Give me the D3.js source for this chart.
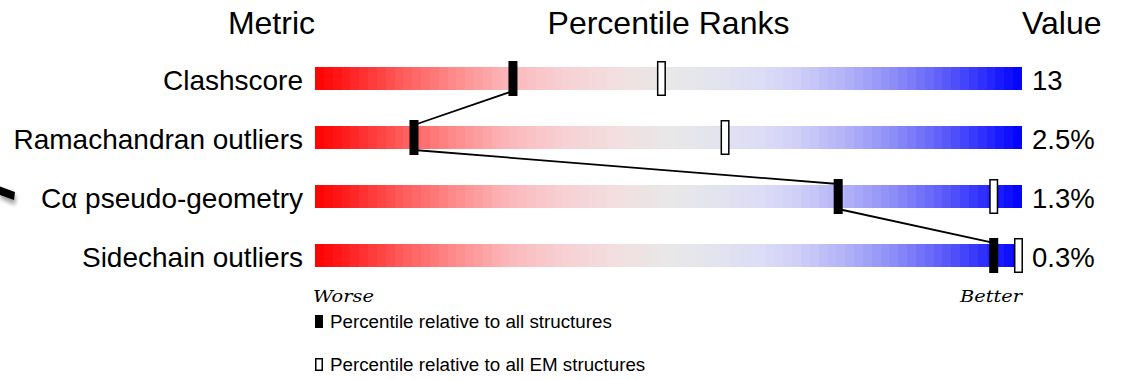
<!DOCTYPE html>
<html>
<head>
<meta charset="utf-8">
<script src="https://cdn.jsdelivr.net/npm/d3@7"></script>
<style>
  html, body { margin: 0; padding: 0; background: #fff; }
  svg { display: block; }
  text { font-family: "Liberation Sans", Arial, sans-serif; fill: #000; }
</style>
</head>
<body>
<div id="chart"></div>
<script>
// ---- data ----
const metrics = ["Clashscore", "Ramachandran outliers", "C\u03b1 pseudo-geometry", "Sidechain outliers"];
const percentileAll = [28, 14, 74, 96];
const percentileEM = [49, 58, 96, 99.5];
const valueLabels = ["13", "2.5%", "1.3%", "0.3%"];
const headers = ["Metric", "Percentile Ranks", "Value"];
const axisEnds = ["Worse", "Better"];
const legendLabels = ["Percentile relative to all structures", "Percentile relative to all EM structures"];

// gradient colour stops (fraction along the slider -> colour)
const gradStops = [0, 0.05, 0.12, 0.20, 0.27, 0.35, 0.43, 0.50, 0.57, 0.63, 0.68, 0.75, 0.82, 0.89, 0.95, 1];
const gradColors = ["#ff0000", "#ff2222", "#ff5959", "#ff8c8c", "#fbb6b9", "#f7d0d3", "#f2dfe0", "#e8e8e8",
                    "#e3e3ef", "#dcdcf6", "#d0d0f8", "#b2b2f8", "#8c8cf8", "#5c5cfa", "#2a2aff", "#0000ff"];

const W = 1126, H = 380;
const svg = d3.select("#chart").append("svg").attr("width", W).attr("height", H);

const x = d3.scaleLinear().domain([0, 100]).range([315, 1022]);
const y = d3.scaleBand().domain(metrics).range([67, 267]).paddingInner(0.61).paddingOuter(0);
const bh = y.bandwidth();
const color = d3.scaleLinear().domain(gradStops).range(gradColors).interpolate(d3.interpolateRgb);

// decorative artifact at left edge (shadowed stroke)
const defs = svg.append("defs");
defs.append("filter").attr("id", "blur").attr("x", "-50%").attr("y", "-50%").attr("width", "200%").attr("height", "200%")
  .append("feGaussianBlur").attr("stdDeviation", 2);
svg.append("polygon").attr("points", "0,190 16,196 15,205 0,198").attr("fill", "#777").attr("filter", "url(#blur)").attr("opacity", 0.7);
svg.append("polygon").attr("points", "0,186.5 15,192 14,200 0,195").attr("fill", "#000");

// headers
svg.append("text").attr("x", x(0)).attr("y", 34).attr("text-anchor", "end").attr("font-size", 32).text(headers[0]);
svg.append("text").attr("x", (x(0) + x(100)) / 2).attr("y", 34).attr("text-anchor", "middle").attr("font-size", 32).text(headers[1]);
svg.append("text").attr("x", x(100)).attr("y", 34).attr("text-anchor", "start").attr("font-size", 32).text(headers[2]);

// gradient bars (banded)
const nBands = 80;
const bands = d3.range(nBands).map(i => i / nBands);
const rows = svg.selectAll("g.row").data(metrics).join("g").attr("class", "row")
  .attr("transform", d => `translate(0,${y(d)})`);
rows.selectAll("rect.band").data(bands).join("rect").attr("class", "band")
  .attr("x", f => x(f * 100))
  .attr("y", 0)
  .attr("width", (x(100) - x(0)) / nBands + 0.6)
  .attr("height", bh)
  .attr("fill", f => color(f + 0.5 / nBands))
  .attr("shape-rendering", "crispEdges");
rows.append("rect").attr("x", x(100)).attr("y", 0).attr("width", 2).attr("height", bh).attr("fill", "#fff");

// metric labels
rows.append("text").attr("x", x(0) - 12).attr("y", bh / 2 + 11).attr("text-anchor", "end").attr("font-size", 28).text(d => d);
// value labels
rows.append("text").attr("x", x(100) + 10).attr("y", bh / 2 + 11).attr("text-anchor", "start").attr("font-size", 27.5)
  .text((d, i) => valueLabels[i]);

// connecting lines
const segs = d3.range(metrics.length - 1).map(i => ({
  x1: x(percentileAll[i]), y1: y(metrics[i]) + bh + 1,
  x2: x(percentileAll[i + 1]), y2: y(metrics[i + 1]) - 1
}));
svg.selectAll("line.conn").data(segs).join("line").attr("class", "conn")
  .attr("x1", d => d.x1).attr("y1", d => d.y1).attr("x2", d => d.x2).attr("y2", d => d.y2)
  .attr("stroke", "#000").attr("stroke-width", 1.8);

// markers
const mw = 9, ext = 6;
svg.selectAll("rect.em").data(metrics).join("rect").attr("class", "em")
  .attr("x", (d, i) => x(percentileEM[i]) - (mw - 1.5) / 2)
  .attr("y", d => y(d) - ext + 0.75)
  .attr("width", mw - 1.5).attr("height", bh + 2 * ext - 1.5)
  .attr("fill", "#fff").attr("stroke", "#000").attr("stroke-width", 1.5);
svg.selectAll("rect.all").data(metrics).join("rect").attr("class", "all")
  .attr("x", (d, i) => x(percentileAll[i]) - mw / 2)
  .attr("y", d => y(d) - ext)
  .attr("width", mw).attr("height", bh + 2 * ext)
  .attr("fill", "#000");

// worse / better
svg.append("text").attr("x", x(0) - 2).attr("y", 302).attr("font-style", "italic")
  .attr("font-size", 17).attr("textLength", 61).attr("lengthAdjust", "spacingAndGlyphs").style("font-family", "'DejaVu Serif', serif").text(axisEnds[0]);
svg.append("text").attr("x", x(100) - 62).attr("y", 302).attr("font-style", "italic")
  .attr("font-size", 17).attr("textLength", 62).attr("lengthAdjust", "spacingAndGlyphs").style("font-family", "'DejaVu Serif', serif").text(axisEnds[1]);

// legend
const leg = svg.append("g");
leg.append("rect").attr("x", 315).attr("y", 315).attr("width", 8).attr("height", 13).attr("fill", "#000");
leg.append("rect").attr("x", 315.75).attr("y", 358.75).attr("width", 6.5).attr("height", 11.5).attr("fill", "#fff").attr("stroke", "#000").attr("stroke-width", 1.5);
leg.selectAll("text").data(legendLabels).join("text")
  .attr("x", 330).attr("y", (d, i) => 327.5 + i * 43).attr("font-size", 18.8).text(d => d);
</script>
</body>
</html>
